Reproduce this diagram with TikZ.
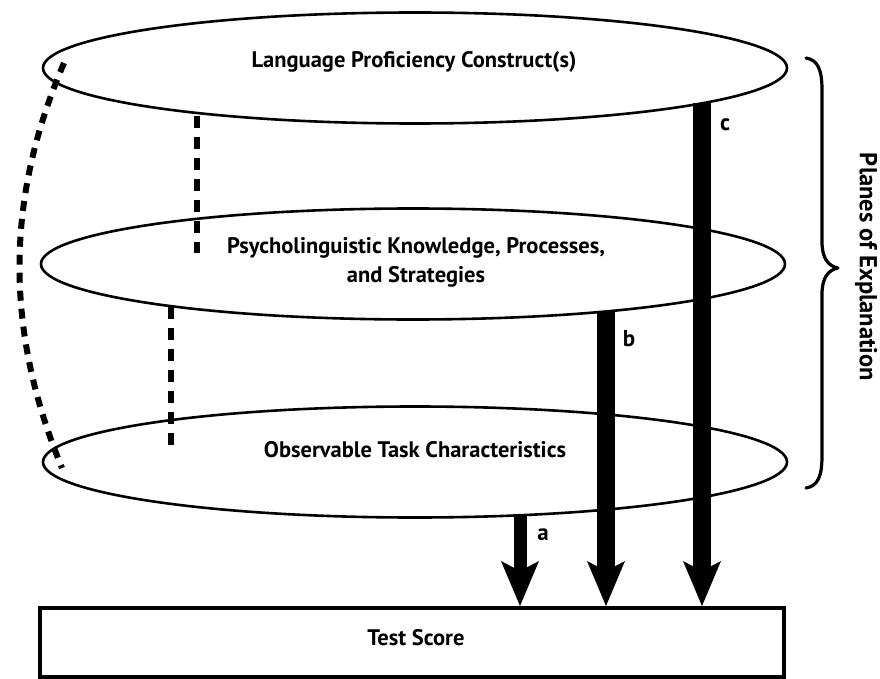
\documentclass[tikz,border=0pt]{standalone}
\usepackage{fontspec}
\setmainfont{PT Sans}
\usetikzlibrary{shapes.geometric, arrows.meta}

\begin{document}
\begin{tikzpicture}[x=1pt, y=-1pt,
  plane/.style={ellipse, draw, line width=2.6pt, minimum width=744pt, minimum height=111pt, inner sep=0pt},
  planetext/.style={font=\bfseries\fontsize{22.5}{29}\selectfont, align=center, inner sep=0pt},
  scorebox/.style={draw, line width=4pt, minimum width=744pt, minimum height=69pt, inner sep=0pt},
  pathlabel/.style={font=\bfseries\fontsize{23}{26}\selectfont, inner sep=0pt},
  effect/.style={line width=#1, -{Stealth[length=45pt, width=38pt, inset=10pt, line width=0pt]}},
  linkdash/.style={line width=5.5pt, dash pattern=on 12pt off 9pt},
  sidedash/.style={line width=6pt, dash pattern=on 10pt off 8pt}
]
\useasboundingbox (0,0) rectangle (880,679);
\fill[white] (0,0) rectangle (880,679);

% three planes of explanation
\node[plane] (construct) at (415,68) {};
\node[plane] (psycho) at (413,264) {};
\node[plane] (task) at (415,462) {};

\node[planetext] (constructtxt) at (414,62) {Language Proficiency Construct(s)};
\node[planetext] (psychotxt) at (416,262) {Psycholinguistic Knowledge, Processes,\\and Strategies};
\node[planetext] (tasktxt) at (415,450) {Observable Task Characteristics};

% test score
\node[scorebox] (score) at (412,642.5) {};
\node[planetext] (scoretxt) at (416,638) {Test Score};

% dashed links between planes
\coordinate (d1a) at (197,116);
\coordinate (d1b) at (197,253);
\coordinate (d2a) at (171,307);
\coordinate (d2b) at (171,448);
\draw[linkdash] (d1a) -- (d1b);
\draw[linkdash] (d2a) -- (d2b);

\coordinate (arcTop) at (64,63);
\coordinate (arcBot) at (62,468);
\draw[sidedash] (arcTop) .. controls (5,200) and (5,330) .. (arcBot);

% direct paths to the test score
\coordinate (aTop) at (520,516);
\coordinate (bTop) at (606,312);
\coordinate (cTop) at (702,103);
\draw[effect=13pt] (aTop) -- (aTop |- score.north);
\draw[effect=18pt] (bTop) -- (bTop |- score.north);
\draw[effect=18pt] (cTop) -- (cTop |- score.north);

\node[pathlabel] (alab) at (543,535) {a};
\node[pathlabel] (blab) at (629,339) {b};
\node[pathlabel] (clab) at (725,125) {c};

% brace spanning the planes
\draw[line width=3.2pt, line cap=round, line join=round]
  (806,58) .. controls (818,60) and (822,70) .. (822,90) -- (822,242)
  .. controls (822,258) and (828,266) .. (838,268)
  .. controls (828,270) and (822,278) .. (822,294) -- (822,456)
  .. controls (822,476) and (818,486) .. (806,488);
\node[font=\bfseries\fontsize{24.5}{28}\selectfont, rotate=-90, inner sep=0pt] (planes) at (866,267) {Planes of Explanation};
\end{tikzpicture}
\end{document}
